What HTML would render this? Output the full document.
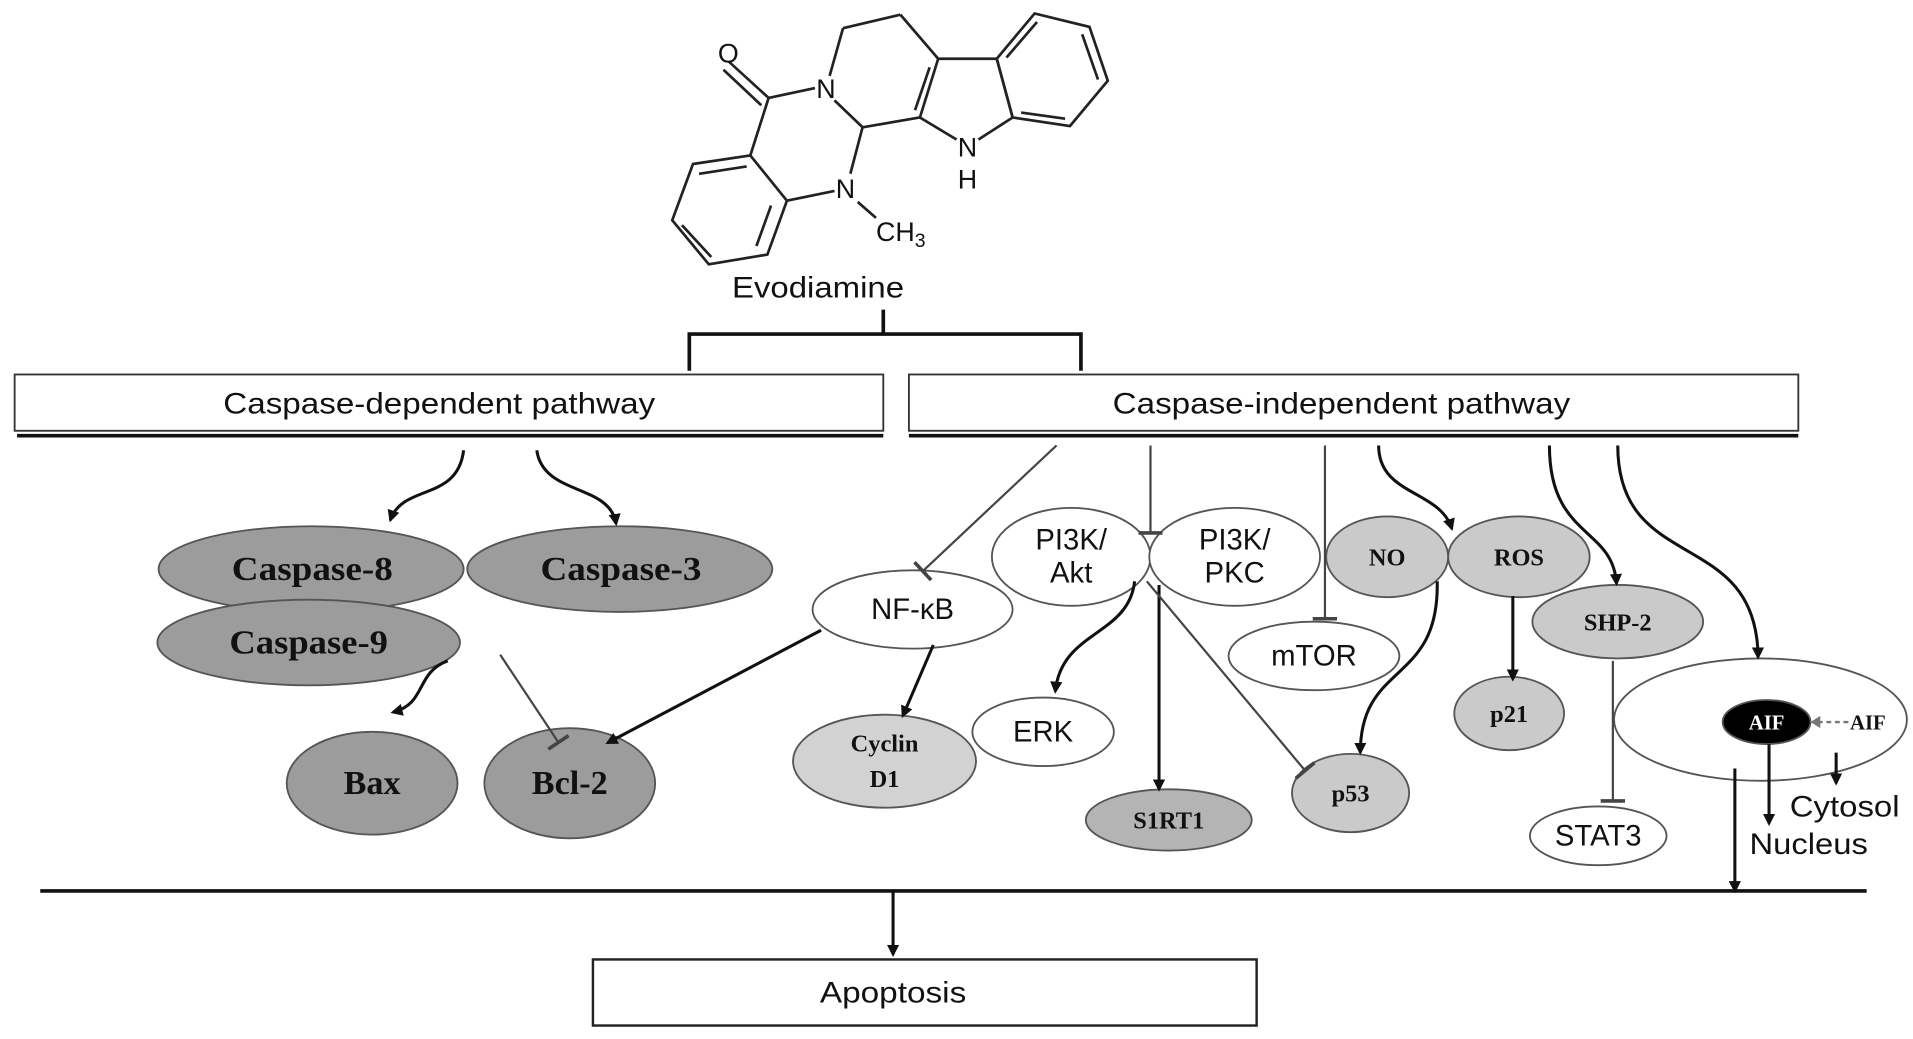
<!DOCTYPE html>
<html><head><meta charset="utf-8"><style>
html,body{margin:0;padding:0;background:#fff;}
svg{display:block;}
.s{font-family:"Liberation Sans",sans-serif;fill:#111;}
.b{font-family:"Liberation Serif",serif;font-weight:bold;fill:#111;}
</style></head><body>
<svg width="1913" height="1039" viewBox="0 0 1568 849" preserveAspectRatio="none" xmlns="http://www.w3.org/2000/svg">
<defs>
<marker id="a" markerWidth="10" markerHeight="10" refX="8" refY="5" orient="auto" markerUnits="userSpaceOnUse"><path d="M0,0 L10,5 L0,10 z" fill="#111"/></marker>
<marker id="t" markerWidth="4" markerHeight="20" refX="2" refY="10" orient="auto" markerUnits="userSpaceOnUse"><rect x="0" y="0" width="3" height="20" fill="#444"/></marker>
</defs>
<g stroke="#222" stroke-width="2.2" fill="none">
<line x1="630" y1="80" x2="597" y2="50"/><line x1="624" y1="86" x2="593" y2="57"/>
<line x1="630" y1="80" x2="668" y2="72"/>
<line x1="680" y1="62" x2="691" y2="23"/>
<line x1="691" y1="23" x2="738" y2="12"/><line x1="738" y1="12" x2="769" y2="48"/>
<line x1="769" y1="48" x2="754" y2="96"/><line x1="762" y1="55" x2="750" y2="90"/>
<line x1="754" y1="96" x2="707" y2="104"/>
<line x1="707" y1="104" x2="684" y2="82"/>
<line x1="707" y1="104" x2="697" y2="142"/>
<line x1="684" y1="156" x2="645" y2="164"/>
<line x1="703" y1="165" x2="718" y2="178"/>
<line x1="615" y1="127" x2="630" y2="80"/>
<polygon points="615,127 645,164 629,208 581,216 551,180 568,134"/>
<line x1="612" y1="136" x2="573" y2="142"/><line x1="632" y1="168" x2="620" y2="201"/><line x1="559" y1="184" x2="583" y2="210"/>
<line x1="769" y1="48" x2="817" y2="48"/><line x1="817" y1="48" x2="830" y2="96"/>
<line x1="830" y1="96" x2="802" y2="114"/><line x1="784" y1="114" x2="754" y2="96"/>
<polygon points="817,48 848,11 893,22 908,66 877,103 830,96"/>
<line x1="825" y1="47" x2="850" y2="18"/><line x1="887" y1="28" x2="900" y2="65"/><line x1="837" y1="92" x2="873" y2="97"/>
</g>
<g class="s" font-size="22" text-anchor="middle">
<text x="597" y="51">O</text><text x="677" y="80">N</text><text x="693" y="162">N</text>
<text x="793" y="128">N</text><text x="793" y="154">H</text>
<text x="718" y="197" text-anchor="start">CH<tspan font-size="16" dy="5">3</tspan></text>
</g>
<text class="s" x="600" y="243" font-size="24" textLength="141" lengthAdjust="spacingAndGlyphs">Evodiamine</text>
<g stroke="#111" stroke-width="3" fill="none">
<line x1="724" y1="253" x2="724" y2="273"/><polyline points="565,303 565,273 886,273 886,303"/>
</g>
<rect x="12" y="306" width="712" height="46" fill="#fff" stroke="#333" stroke-width="1.5"/>
<line x1="14" y1="356" x2="724" y2="356" stroke="#111" stroke-width="3"/>
<text class="s" x="183" y="338" font-size="24" textLength="354" lengthAdjust="spacingAndGlyphs">Caspase-dependent pathway</text>
<rect x="745" y="306" width="729" height="46" fill="#fff" stroke="#333" stroke-width="1.5"/>
<line x1="745" y1="356" x2="1474" y2="356" stroke="#111" stroke-width="3"/>
<text class="s" x="912" y="338" font-size="24" textLength="375" lengthAdjust="spacingAndGlyphs">Caspase-independent pathway</text>
<g stroke="#555" stroke-width="1.5">
<ellipse cx="255" cy="465" rx="125" ry="35" fill="#9c9c9c"/>
<ellipse cx="508" cy="465" rx="125" ry="35" fill="#9c9c9c"/>
<ellipse cx="253" cy="525" rx="124" ry="35" fill="#9c9c9c"/>
<ellipse cx="305" cy="640" rx="70" ry="42" fill="#9c9c9c"/>
<ellipse cx="467" cy="640" rx="70" ry="45" fill="#9c9c9c"/>
<ellipse cx="748" cy="498" rx="82" ry="32" fill="#fff"/>
<ellipse cx="725" cy="622" rx="75" ry="38" fill="#d2d2d2"/>
<ellipse cx="878" cy="455" rx="65" ry="40" fill="#fff"/>
<ellipse cx="1012" cy="455" rx="70" ry="40" fill="#fff"/>
<ellipse cx="1137" cy="455" rx="50" ry="33" fill="#cacaca"/>
<ellipse cx="1245" cy="455" rx="58" ry="33" fill="#cacaca"/>
<ellipse cx="1077" cy="536" rx="70" ry="28" fill="#fff"/>
<ellipse cx="1326" cy="508" rx="70" ry="30" fill="#cacaca"/>
<ellipse cx="1443" cy="588" rx="120" ry="50" fill="#fff"/>
<ellipse cx="855" cy="598" rx="58" ry="28" fill="#fff"/>
<ellipse cx="958" cy="670" rx="68" ry="25" fill="#b4b4b4"/>
<ellipse cx="1107" cy="648" rx="48" ry="32" fill="#cacaca"/>
<ellipse cx="1237" cy="583" rx="45" ry="30" fill="#cacaca"/>
<ellipse cx="1310" cy="683" rx="56" ry="24" fill="#fff"/>
<ellipse cx="1448" cy="590" rx="36" ry="18" fill="#000"/>
</g>
<g class="b" font-size="28" lengthAdjust="spacingAndGlyphs">
<text x="190" y="474" textLength="132" lengthAdjust="spacingAndGlyphs">Caspase-8</text>
<text x="443" y="474" textLength="132" lengthAdjust="spacingAndGlyphs">Caspase-3</text>
<text x="188" y="534" textLength="130" lengthAdjust="spacingAndGlyphs">Caspase-9</text>
<text x="305" y="649" text-anchor="middle">Bax</text><text x="467" y="649" text-anchor="middle">Bcl-2</text>
</g>
<g class="b" text-anchor="middle" font-size="20">
<text x="725" y="614">Cyclin</text><text x="725" y="643">D1</text>
<text x="1137" y="462">NO</text><text x="1245" y="462">ROS</text><text x="1326" y="515">SHP-2</text>
<text x="958" y="677">S1RT1</text><text x="1107" y="655">p53</text><text x="1237" y="590">p21</text>
<text x="1448" y="596" style="fill:#fff" font-size="17">AIF</text>
<text x="1531" y="596" font-size="17">AIF</text>
</g>
<g class="s" text-anchor="middle" font-size="24">
<text x="748" y="506">NF-κB</text>
<text x="878" y="449">PI3K/</text><text x="878" y="476">Akt</text>
<text x="1012" y="449">PI3K/</text><text x="1012" y="476">PKC</text>
<text x="1077" y="544">mTOR</text><text x="855" y="606">ERK</text><text x="1310" y="691">STAT3</text>
<text x="1467" y="667" text-anchor="start" textLength="90" lengthAdjust="spacingAndGlyphs">Cytosol</text>
<text x="1434" y="698" text-anchor="start" textLength="97" lengthAdjust="spacingAndGlyphs">Nucleus</text>
</g>
<g stroke="#111" stroke-width="2.5" fill="none" marker-end="url(#a)">
<path d="M380,368 C375,410 330,395 320,425"/>
<path d="M440,368 C445,405 500,395 505,428"/>
<path d="M367,540 C340,550 350,575 322,582"/>
<path d="M673,515 L498,607"/>
<path d="M765,527 L740,585"/>
<path d="M1130,364 C1130,405 1180,400 1190,432"/>
<path d="M1270,364 C1270,440 1322,430 1325,477"/>
<path d="M1326,364 C1326,470 1440,430 1441,537"/>
<path d="M930,475 C925,520 870,515 865,565"/>
<path d="M950,478 L950,645"/>
<path d="M1178,475 C1180,560 1115,540 1115,615"/>
<path d="M1240,487 L1240,555"/>
<path d="M1450,608 L1450,673"/>
<path d="M1505,615 L1505,640"/>
<path d="M1422,628 L1422,728"/>
<path d="M732,728 L732,780"/>
</g>
<g stroke="#444" stroke-width="1.8" fill="none" marker-end="url(#t)">
<path d="M866,364 L756,467"/>
<path d="M410,535 L458,607"/>
<path d="M943,364 L943,436"/>
<path d="M1086,364 L1086,506"/>
<path d="M940,475 L1070,630"/>
<path d="M1322,540 L1322,655"/>
</g>
<line x1="1515" y1="590" x2="1490" y2="590" stroke="#777" stroke-width="2" stroke-dasharray="4,3"/>
<path d="M1484,590 L1492,585 L1492,595 z" fill="#777"/>
<line x1="33" y1="728" x2="1530" y2="728" stroke="#111" stroke-width="3"/>
<rect x="486" y="784" width="544" height="54" fill="#fff" stroke="#222" stroke-width="2"/>
<text class="s" x="672" y="819" font-size="24" textLength="120" lengthAdjust="spacingAndGlyphs">Apoptosis</text>
</svg>
</body></html>
